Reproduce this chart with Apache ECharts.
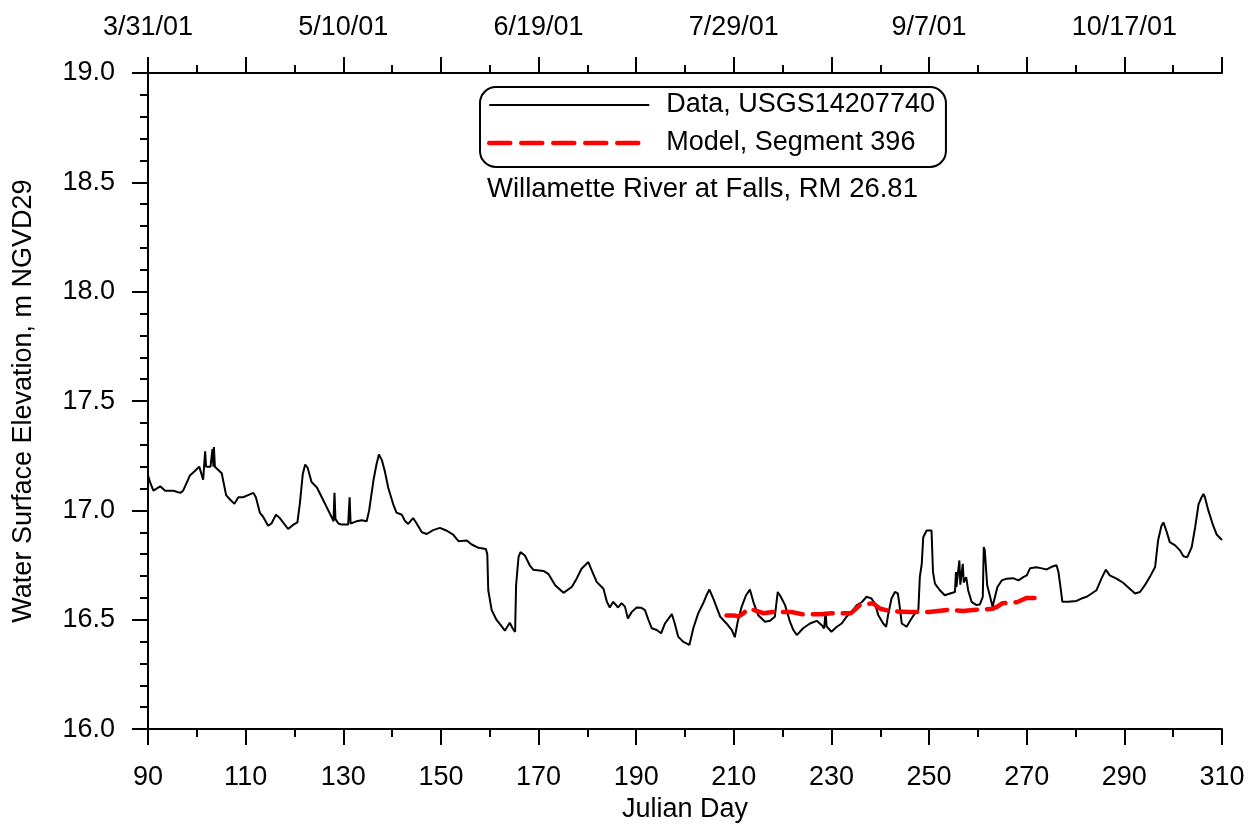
<!DOCTYPE html>
<html>
<head>
<meta charset="utf-8">
<script src="https://cdn.jsdelivr.net/npm/echarts@6/dist/echarts.min.js"></script>
<style>
html,body{margin:0;padding:0;background:#fff;}
#chart{width:1253px;height:828px;}
</style>
</head>
<body>
<div id="chart"></div>
<script>
// ---- Data ----
const dataDays = [90.0,90.4,91.1,92.5,93.5,95.2,96.6,97.2,98.6,99.6,100.5,101.3,101.7,101.9,102.8,103.2,103.4,103.5,103.7,104.0,105.1,106.0,106.8,107.7,108.5,109.5,110.5,111.6,112.1,112.9,113.6,114.6,115.3,116.2,117.0,118.7,119.8,120.6,121.1,121.7,122.2,122.7,123.5,124.6,125.6,126.6,127.6,128.0,128.2,128.4,129.0,129.7,131.0,131.3,131.5,132.7,133.8,134.8,135.3,136.2,136.8,137.3,137.9,138.5,139.2,140.2,140.9,142.0,142.6,143.3,144.3,145.0,146.1,147.1,148.4,149.8,151.2,152.5,153.6,155.3,156.3,157.7,159.2,159.5,159.7,160.4,161.4,162.1,163.1,164.1,164.7,165.2,165.4,165.9,166.3,167.2,168.2,168.9,171.0,172.0,173.4,175.1,176.8,177.8,178.8,180.2,180.9,181.9,183.3,184.0,184.6,185.3,186.3,187.0,187.7,188.3,189.1,190.1,191.0,191.8,192.5,193.2,194.2,195.1,195.9,197.3,197.9,198.6,199.6,200.9,201.7,202.7,203.7,204.4,205.0,205.8,207.2,208.5,209.6,210.2,210.8,211.6,212.5,213.3,214.0,215.0,216.4,217.4,218.4,219.0,219.5,220.5,221.5,222.2,222.9,224.2,225.6,227.0,228.0,228.5,228.8,229.0,230.0,231.1,232.1,233.1,234.1,235.2,236.2,237.2,238.2,238.9,239.6,240.6,241.2,241.6,242.3,243.0,243.6,243.9,244.4,245.4,246.2,247.1,247.8,248.1,248.5,248.8,249.5,250.5,250.8,251.2,252.2,253.2,254.3,255.3,255.5,255.6,256.2,256.4,256.9,257.1,257.6,258.0,258.7,259.7,260.4,261.0,261.2,261.4,261.9,262.5,263.0,263.5,264.0,264.9,265.9,267.2,268.3,269.3,270.0,270.7,272.0,273.1,274.1,275.1,276.1,276.5,277.0,277.3,278.5,280.2,281.2,282.3,283.3,284.3,285.3,286.2,287.0,288.4,289.8,291.1,292.2,293.2,294.2,295.2,296.3,296.9,297.6,298.0,298.7,299.3,300.4,301.4,302.1,302.9,303.8,304.5,305.2,305.8,306.2,306.5,307.2,308.2,308.9,310.0];
const dataLevels = [17.16,17.13,17.09,17.11,17.09,17.09,17.08,17.09,17.16,17.18,17.2,17.14,17.27,17.2,17.2,17.28,17.2,17.29,17.2,17.2,17.17,17.07,17.05,17.03,17.06,17.06,17.07,17.08,17.06,16.99,16.97,16.93,16.94,16.98,16.965,16.915,16.935,16.945,17.03,17.165,17.21,17.195,17.13,17.105,17.06,17.015,16.97,16.95,17.08,16.96,16.94,16.935,16.935,17.06,16.94,16.95,16.955,16.95,17.0,17.14,17.21,17.256,17.23,17.18,17.105,17.03,16.99,16.98,16.953,16.938,16.965,16.941,16.9,16.892,16.91,16.92,16.907,16.889,16.859,16.862,16.844,16.829,16.824,16.8,16.635,16.544,16.499,16.48,16.45,16.486,16.46,16.445,16.658,16.786,16.809,16.794,16.749,16.729,16.723,16.71,16.658,16.623,16.65,16.688,16.733,16.764,16.726,16.673,16.642,16.582,16.556,16.582,16.556,16.576,16.56,16.506,16.536,16.556,16.555,16.544,16.5,16.461,16.453,16.438,16.483,16.526,16.483,16.423,16.4,16.385,16.461,16.529,16.574,16.612,16.638,16.597,16.514,16.483,16.453,16.42,16.491,16.559,16.612,16.638,16.582,16.521,16.491,16.495,16.514,16.627,16.61,16.567,16.491,16.453,16.43,16.461,16.483,16.495,16.475,16.46,16.536,16.47,16.445,16.468,16.483,16.514,16.536,16.567,16.58,16.605,16.597,16.574,16.521,16.483,16.468,16.521,16.597,16.627,16.62,16.574,16.483,16.468,16.499,16.529,16.544,16.695,16.756,16.877,16.908,16.908,16.718,16.665,16.635,16.612,16.62,16.627,16.718,16.65,16.771,16.66,16.756,16.67,16.695,16.635,16.582,16.567,16.57,16.605,16.832,16.82,16.658,16.605,16.559,16.605,16.65,16.68,16.688,16.69,16.68,16.695,16.703,16.736,16.74,16.735,16.73,16.742,16.749,16.718,16.635,16.582,16.582,16.586,16.597,16.605,16.62,16.635,16.688,16.729,16.703,16.688,16.668,16.642,16.62,16.627,16.658,16.695,16.741,16.862,16.93,16.945,16.9,16.855,16.84,16.817,16.79,16.786,16.832,16.923,17.029,17.059,17.075,17.06,17.0,16.93,16.89,16.865];

const modelDays = [208.5,210.0,211.0,212.0,213.0,214.0,216.0,218.0,222.0,224.0,228.0,230.0,234.0,235.5,236.0,238.5,240.0,242.0,246.0,250.0,254.0,257.0,259.0,263.0,264.0,265.0,268.0,269.0,270.0,273.5];
const modelLevels = [16.52,16.52,16.515,16.53,16.55,16.545,16.53,16.535,16.535,16.525,16.525,16.53,16.53,16.56,16.57,16.575,16.55,16.54,16.535,16.535,16.545,16.54,16.545,16.55,16.56,16.575,16.58,16.59,16.6,16.6];

const seriesNames = ['Data, USGS14207740', 'Model, Segment 396'];
const subtitle = 'Willamette River at Falls, RM 26.81';
const xAxisName = 'Julian Day';
const yAxisName = 'Water Surface Elevation, m NGVD29';
const topLabelDays = [90,130,170,210,250,290];
const topLabels = ['3/31/01','5/10/01','6/19/01','7/29/01','9/7/01','10/17/01'];

const FONT = '"Liberation Sans", Arial, sans-serif';
const axisCommon = {
  axisLine: { show: true, lineStyle: { color: '#000', width: 2 } },
  axisTick: { show: true, inside: false, length: 16, lineStyle: { color: '#000', width: 2 } },
  minorTick: { show: true, length: 8, lineStyle: { color: '#000', width: 2 } },
  splitLine: { show: false },
  minorSplitLine: { show: false }
};

const chart = echarts.init(document.getElementById('chart'), null, { renderer: 'canvas' });
chart.setOption({
  backgroundColor: '#fff',
  animation: false,
  textStyle: { fontFamily: FONT },
  title: {
    text: subtitle,
    left: 487, top: 175,
    padding: 0,
    textStyle: { fontFamily: FONT, fontSize: 27.5, fontWeight: 'normal', color: '#000' }
  },
  legend: {
    left: 480, top: 87,
    orient: 'vertical',
    selectedMode: false,
    borderColor: '#000', borderWidth: 2, borderRadius: 16,
    padding: [4, 11, 10, 7],
    itemWidth: 160, itemHeight: 14, itemGap: 10,
    itemStyle: { opacity: 0 },
    data: [
      { name: seriesNames[0], lineStyle: { color: '#000', width: 2, type: 'solid' } },
      { name: seriesNames[1], lineStyle: { color: '#ff0000', width: 4.5, type: [21, 11] } }
    ],
    textStyle: { fontFamily: FONT, fontSize: 27, color: '#000', lineHeight: 28, padding: [0, 0, 0, 12] }
  },
  grid: { left: 148, right: 31, top: 73, bottom: 95, containLabel: false },
  xAxis: [
    Object.assign({}, axisCommon, {
      type: 'value', position: 'bottom', min: 90, max: 310, interval: 20,
      minorTick: Object.assign({}, axisCommon.minorTick, { splitNumber: 2 }),
      name: xAxisName, nameLocation: 'middle', nameGap: 64,
      nameTextStyle: { fontFamily: FONT, fontSize: 27, color: '#000' },
      axisLabel: { margin: 35, fontFamily: FONT, fontSize: 27, color: '#000' }
    }),
    Object.assign({}, axisCommon, {
      type: 'value', position: 'top', min: 90, max: 310, interval: 20,
      minorTick: Object.assign({}, axisCommon.minorTick, { splitNumber: 2 }),
      axisLabel: {
        margin: 32, fontFamily: FONT, fontSize: 27, color: '#000',
        formatter: function (v) { const i = topLabelDays.indexOf(v); return i >= 0 ? topLabels[i] : ''; }
      }
    })
  ],
  yAxis: Object.assign({}, axisCommon, {
    type: 'value', min: 16, max: 19, interval: 0.5,
    minorTick: Object.assign({}, axisCommon.minorTick, { splitNumber: 5 }),
    name: yAxisName, nameLocation: 'middle', nameGap: 111, nameRotate: 90,
    nameTextStyle: { fontFamily: FONT, fontSize: 27, color: '#000' },
    axisLabel: { margin: 33, fontFamily: FONT, fontSize: 27, color: '#000', formatter: v => v.toFixed(1) }
  }),
  series: [
    {
      name: seriesNames[0], type: 'line', xAxisIndex: 0, symbol: 'none',
      data: dataDays.map((d, i) => [d, dataLevels[i]]),
      lineStyle: { color: '#000', width: 2 }, itemStyle: { color: '#000' }
    },
    {
      name: seriesNames[1], type: 'line', xAxisIndex: 0, symbol: 'none',
      data: modelDays.map((d, i) => [d, modelLevels[i]]),
      lineStyle: { color: '#ff0000', width: 4.5, type: [20, 10], cap: 'round' }, itemStyle: { color: '#ff0000' }
    }
  ]
});
</script>
</body>
</html>
